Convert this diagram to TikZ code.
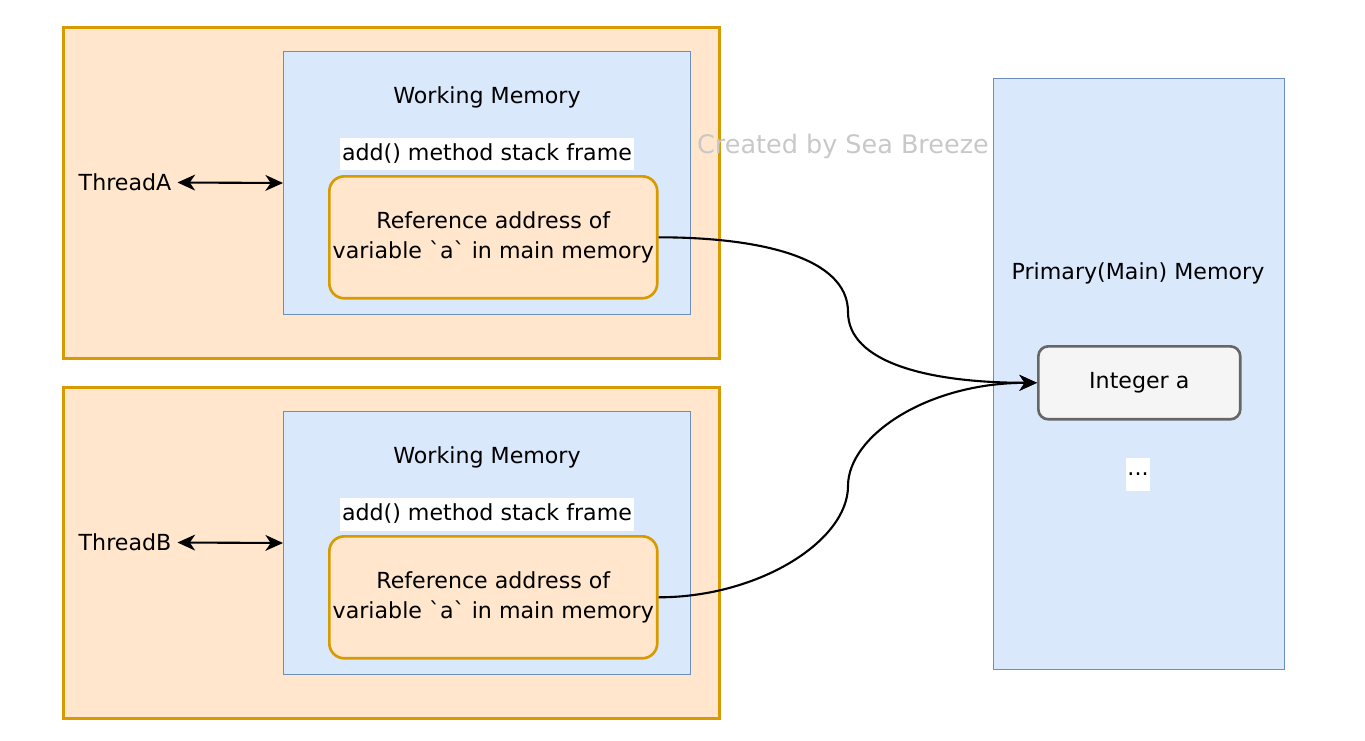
\documentclass[tikz,border=0pt]{standalone}
\usepackage{fontspec}
\setmainfont{DejaVu Sans}
\usetikzlibrary{arrows.meta}
\definecolor{thrfill}{HTML}{FFE6CC}
\definecolor{thrline}{HTML}{D79B00}
\definecolor{memfill}{HTML}{DAE8FC}
\definecolor{memline}{HTML}{6C8EBF}
\definecolor{intfill}{HTML}{F5F5F5}
\definecolor{intline}{HTML}{666666}
\definecolor{wmark}{HTML}{C8C8C8}

\tikzset{
  thread/.style={draw=thrline, fill=thrfill, line width=1.7pt, anchor=north west,
    minimum width=13.12cm, minimum height=6.62cm, inner sep=0pt},
  workmem/.style={draw=memline, fill=memfill, line width=0.6pt, anchor=north west,
    minimum width=8.14cm, minimum height=5.26cm, inner sep=0pt},
  refbox/.style={draw=thrline, fill=thrfill, line width=1.5pt, rounded corners=0.3cm,
    anchor=north west, minimum width=6.56cm, minimum height=2.44cm, inner xsep=0pt, align=center},
  framelbl/.style={fill=white, inner sep=1pt, minimum height=0.66cm},
  link/.style={line width=1.2pt, -{Stealth[length=10pt,width=9pt,inset=3pt]}},
  both/.style={line width=1.2pt, {Stealth[length=10pt,width=9pt,inset=3pt]}-{Stealth[length=10pt,width=9pt,inset=3pt]}}
}

\begin{document}
\begin{tikzpicture}[x=0.02cm,y=-0.02cm,font=\fontsize{12.6}{17}\selectfont]

\useasboundingbox (0,0) rectangle (1365,740);

% thread A
\node[thread] (thrA) at (62,26) {};
\node[workmem] (memA) at (283,51) {};
\node (labA) at (487,97) {Working Memory};
\node[framelbl] (frmA) at (487,154) {add() method stack frame};
\node[refbox] (refA) at (328,175) {Reference address of\\variable \textasciigrave a\textasciigrave{} in main memory};
\node (tA) at (125,182.5) {ThreadA};
\draw[both] (tA.east) -- (memA.west);

% thread B
\node[thread] (thrB) at (62,386) {};
\node[workmem] (memB) at (283,411) {};
\node (labB) at (487,457) {Working Memory};
\node[framelbl] (frmB) at (487,514) {add() method stack frame};
\node[refbox] (refB) at (328,535) {Reference address of\\variable \textasciigrave a\textasciigrave{} in main memory};
\node (tB) at (125,542.5) {ThreadB};
\draw[both] (tB.east) -- (memB.west);

% main memory
\node[draw=memline, fill=memfill, line width=0.6pt, anchor=north west,
  minimum width=5.82cm, minimum height=11.82cm] (mainmem) at (993,78) {};
\node (lblmain) at (1138,273) {Primary(Main) Memory};
\node[draw=intline, fill=intfill, line width=1.5pt, rounded corners=0.2cm, anchor=north west,
  minimum width=4.04cm, minimum height=1.46cm] (inta) at (1037,345) {Integer a};
\node[fill=white, inner sep=1pt, minimum height=0.66cm] (dots) at (1138,474) {...};

\node[text=wmark, font=\fontsize{14.5}{17}\selectfont] (mark) at (843,146) {Created by Sea Breeze};

\coordinate (bendA) at (848,312);
\coordinate (bendB) at (848,486);
\draw[link] (refA.east) .. controls +(100,0) and +(0,-55) .. (bendA)
  .. controls +(0,50) and +(-110,0) .. (inta.west);
\draw[link] (refB.east) .. controls +(100,0) and +(0,55) .. (bendB)
  .. controls +(0,-50) and +(-110,0) .. (inta.west);

\end{tikzpicture}
\end{document}
